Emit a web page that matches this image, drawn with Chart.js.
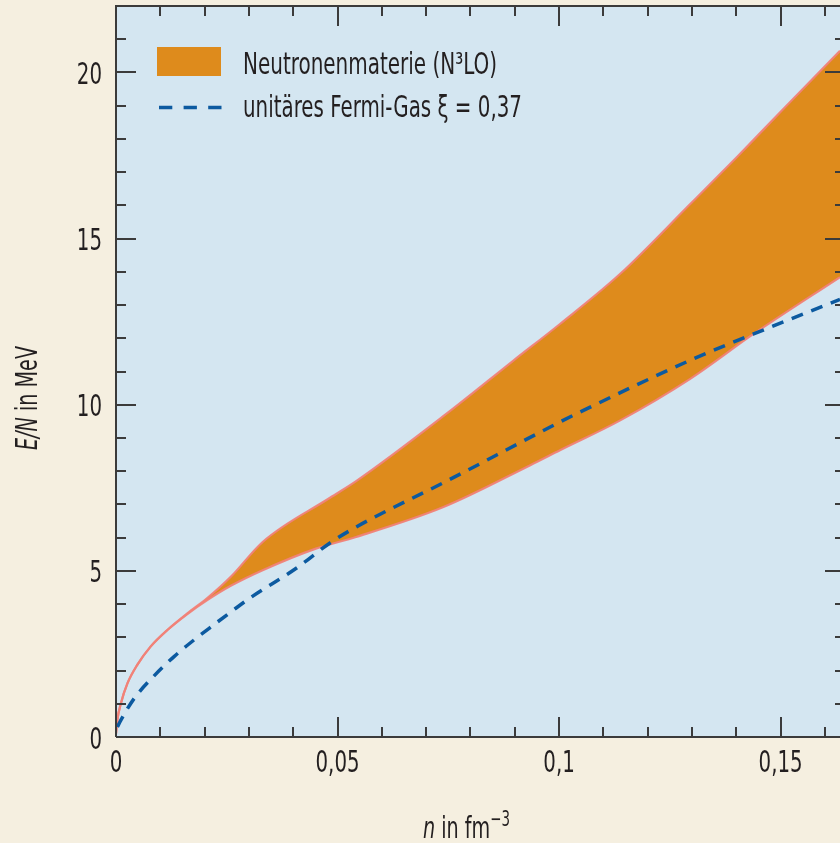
<!DOCTYPE html>
<html>
<head>
<meta charset="utf-8">
<script src="https://cdn.jsdelivr.net/npm/chart.js@4/dist/chart.umd.min.js"></script>
<style>
  html, body { margin: 0; padding: 0; background: #f5efe0; }
  #wrap { width: 840px; height: 843px; }
</style>
</head>
<body>
<div id="wrap"><canvas id="c" width="840" height="843"></canvas></div>
<script>
// Energy per neutron E/N (MeV) versus neutron density n (fm^-3)

// N3LO neutron matter band: upper edge
const bandUpperN = [0, 0.0003, 0.0011, 0.0026, 0.0048, 0.0078, 0.0116, 0.0161, 0.0206, 0.0259, 0.0331, 0.0483, 0.0542, 0.0746, 0.0897, 0.1002, 0.1138, 0.1296, 0.1401, 0.1499, 0.1634];
const bandUpperE = [0.1, 0.51, 1.01, 1.62, 2.17, 2.72, 3.22, 3.72, 4.18, 4.82, 5.87, 7.2, 7.7, 9.73, 11.33, 12.43, 13.94, 16.04, 17.45, 18.8, 20.65];

// N3LO neutron matter band: lower edge
const bandLowerN = [0, 0.0003, 0.0011, 0.0026, 0.0048, 0.0078, 0.0116, 0.0161, 0.0206, 0.0259, 0.0331, 0.0451, 0.0542, 0.0739, 0.0935, 0.1002, 0.1138, 0.1296, 0.1439, 0.1634];
const bandLowerE = [0.1, 0.51, 1.01, 1.62, 2.17, 2.72, 3.22, 3.7, 4.12, 4.55, 5.02, 5.67, 6.02, 6.92, 8.18, 8.63, 9.53, 10.78, 12.13, 13.84];

// unitary Fermi gas, xi = 0.37
const fermiGasN = [0.0003, 0.0011, 0.0041, 0.0086, 0.0131, 0.0176, 0.0221, 0.0263, 0.0301, 0.0406, 0.0483, 0.0542, 0.0746, 0.1002, 0.1055, 0.1303, 0.1439, 0.1634];
const fermiGasE = [0.3, 0.51, 1.16, 1.84, 2.42, 2.92, 3.38, 3.8, 4.17, 5.07, 5.84, 6.32, 7.7, 9.48, 9.83, 11.38, 12.13, 13.17];

// axis ticks
const xTickValues = [0, 0.05, 0.1, 0.15];
const yTickValues = [0, 5, 10, 15, 20];

const legendBandLabel = 'Neutronenmaterie (N³LO)';
const legendGasLabel = 'unitäres Fermi-Gas ξ = 0,37';

const FONT = "'DejaVu Sans Condensed', 'DejaVu Sans', sans-serif";
const INK = '#231f20';
const AXIS = '#3b3b3b';
const ORANGE = '#de8b1c';
const EDGE = 'rgba(240,130,120,0.95)';
const BLUE = '#0c5aa0';
const SQUEEZE = 0.71;      // horizontal compression of all lettering

const toPoints = (xs, ys) => xs.map((x, i) => ({ x, y: ys[i] }));
const fmt = v => String(v).replace('.', ',');

// draws a run of [text, font, dy] pieces, compressed horizontally
function drawRun(ctx, pieces, x, y, align, sx) {
  const widths = pieces.map(([t, f]) => { ctx.font = f; return ctx.measureText(t).width; });
  const total = widths.reduce((a, b) => a + b, 0);
  let start = align === 'right' ? -total : align === 'center' ? -total / 2 : 0;
  ctx.save();
  ctx.translate(x, y);
  ctx.scale(sx, 1);
  ctx.textAlign = 'left';
  pieces.forEach(([t, f, dy], i) => {
    ctx.font = f;
    ctx.fillText(t, start, dy || 0);
    start += widths[i];
  });
  ctx.restore();
  return total * sx;
}

const plotBackground = {
  id: 'plotBackground',
  beforeDraw(chart) {
    const { ctx, chartArea: a } = chart;
    ctx.save();
    ctx.fillStyle = '#d4e6f1';
    ctx.fillRect(a.left, a.top, a.right - a.left, a.bottom - a.top);
    ctx.restore();
  }
};

const frameAndTicks = {
  id: 'frameAndTicks',
  afterDatasetsDraw(chart) {
    const { ctx, chartArea: a, scales: { x, y } } = chart;
    ctx.save();
    ctx.strokeStyle = AXIS;
    ctx.lineWidth = 2;
    ctx.beginPath();
    ctx.moveTo(a.left, a.bottom);
    ctx.lineTo(a.left, a.top);
    ctx.lineTo(a.right, a.top);
    ctx.moveTo(a.left, a.bottom);
    ctx.lineTo(a.right, a.bottom);
    ctx.stroke();

    ctx.beginPath();
    // x ticks every 0.01, longer at multiples of 0.05
    for (let k = 1; k * 0.01 <= x.max + 1e-9; k++) {
      const px = Math.round(x.getPixelForValue(k * 0.01));
      const len = k % 5 === 0 ? 20 : 10;
      ctx.moveTo(px, a.bottom);
      ctx.lineTo(px, a.bottom - len);
      ctx.moveTo(px, a.top);
      ctx.lineTo(px, a.top + len);
    }
    // y ticks every 1, longer at multiples of 5
    const rightEdge = a.right + 5;
    for (let k = 1; k <= y.max; k++) {
      const py = Math.round(y.getPixelForValue(k));
      const len = k % 5 === 0 ? 20 : 10;
      ctx.moveTo(a.left, py);
      ctx.lineTo(a.left + len, py);
      ctx.moveTo(rightEdge, py);
      ctx.lineTo(rightEdge - len, py);
    }
    ctx.stroke();
    ctx.restore();
  }
};

const labelsAndLegend = {
  id: 'labelsAndLegend',
  afterDraw(chart) {
    const { ctx, chartArea: a, scales: { x, y } } = chart;
    const tickFont = '31px ' + FONT;
    ctx.save();
    ctx.fillStyle = INK;
    ctx.textBaseline = 'alphabetic';

    // tick labels
    x.ticks.forEach(t => {
      drawRun(ctx, [[fmt(t.value), tickFont]], x.getPixelForValue(t.value), a.bottom + 34.5, 'center', SQUEEZE);
    });
    y.ticks.forEach(t => {
      drawRun(ctx, [[fmt(t.value), tickFont]], a.left - 14, y.getPixelForValue(t.value) + 11.5, 'right', SQUEEZE);
    });

    // legend: band swatch
    ctx.fillStyle = ORANGE;
    ctx.fillRect(157, 47, 64, 29);
    // legend: dashed line
    ctx.strokeStyle = BLUE;
    ctx.lineWidth = 3.5;
    ctx.setLineDash([13.3, 11.3]);
    ctx.beginPath();
    ctx.moveTo(159, 107.5);
    ctx.lineTo(222, 107.5);
    ctx.stroke();
    ctx.setLineDash([]);

    ctx.fillStyle = INK;
    const lf = '30px ' + FONT;
    ctx.font = lf;
    drawRun(ctx, [[legendBandLabel, lf]], 243, 74, 'left', 254 / ctx.measureText(legendBandLabel).width);
    ctx.font = lf;
    drawRun(ctx, [[legendGasLabel, lf]], 243, 116.5, 'left', 279 / ctx.measureText(legendGasLabel).width);

    // y axis title
    const tf = '30px ' + FONT, tfi = 'italic 30px ' + FONT;
    ctx.save();
    ctx.translate(37, 398);
    ctx.rotate(-Math.PI / 2);
    drawRun(ctx, [['E/N', tfi], [' in MeV', tf]], 0, 0, 'center', SQUEEZE);
    ctx.restore();

    // x axis title
    drawRun(ctx, [['n', tfi], [' in fm', tf], ['−3', '21px ' + FONT, -12]], 423, 838, 'left', SQUEEZE);

    ctx.restore();
  }
};

new Chart(document.getElementById('c'), {
  type: 'line',
  data: {
    datasets: [
      {
        label: 'unitäres Fermi-Gas',
        data: toPoints(fermiGasN, fermiGasE),
        borderColor: BLUE,
        borderWidth: 3.5,
        borderDash: [12, 9],
        fill: false,
        pointRadius: 0,
        cubicInterpolationMode: 'monotone'
      },
      {
        label: 'Neutronenmaterie obere Grenze',
        data: toPoints(bandUpperN, bandUpperE),
        borderColor: EDGE,
        borderWidth: 2.2,
        backgroundColor: ORANGE,
        fill: 2,
        pointRadius: 0,
        cubicInterpolationMode: 'monotone'
      },
      {
        label: 'Neutronenmaterie untere Grenze',
        data: toPoints(bandLowerN, bandLowerE),
        borderColor: EDGE,
        borderWidth: 2.2,
        fill: false,
        pointRadius: 0,
        cubicInterpolationMode: 'monotone'
      }
    ]
  },
  options: {
    responsive: false,
    devicePixelRatio: 1,
    animation: false,
    events: [],
    layout: { padding: { top: 6, right: 0, left: 0, bottom: 0 } },
    plugins: {
      legend: { display: false },
      tooltip: { enabled: false },
      filler: { drawTime: 'beforeDatasetsDraw' }
    },
    scales: {
      x: {
        type: 'linear',
        min: 0,
        max: 0.1634,
        grid: { display: false, drawTicks: false },
        border: { display: false },
        ticks: { display: false },
        afterBuildTicks: s => { s.ticks = xTickValues.map(v => ({ value: v })); },
        afterFit: s => { s.height = 106; s.paddingLeft = 0; s.paddingRight = 0; }
      },
      y: {
        type: 'linear',
        min: 0,
        max: 22,
        grid: { display: false, drawTicks: false },
        border: { display: false },
        ticks: { display: false },
        afterBuildTicks: s => { s.ticks = yTickValues.map(v => ({ value: v })); },
        afterFit: s => { s.width = 116; s.paddingTop = 0; s.paddingBottom = 0; }
      }
    }
  },
  plugins: [plotBackground, frameAndTicks, labelsAndLegend]
});
</script>
</body>
</html>
